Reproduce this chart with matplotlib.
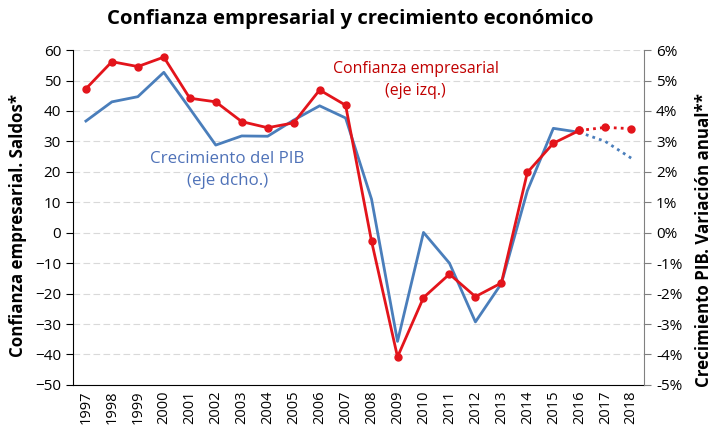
import matplotlib.pyplot as plt
from matplotlib.ticker import FuncFormatter

# Data
years = list(range(1997, 2019))
confianza = [47.3, 56.2, 54.6, 57.7, 44.2, 43.0, 36.5, 34.5, 36.1, 46.9, 41.9,
             -2.8, -40.8, -21.3, -13.6, -21.0, -16.5, 19.8, 29.4, 33.6, 34.6, 34.2]
pib = [3.67, 4.30, 4.47, 5.27, 4.08, 2.88, 3.18, 3.17, 3.70, 4.17, 3.77,
       1.10, -3.57, 0.01, -1.00, -2.93, -1.67, 1.38, 3.43, 3.30, 3.00, 2.45]
n_real = 20  # 1997-2016 observed, 2017-2018 forecast

red = '#E3141B'
blue = '#4A7EBB'

plt.rcParams['font.family'] = ['Open Sans', 'DejaVu Sans']

fig = plt.figure(figsize=(7.15, 4.32), dpi=100)
ax = fig.add_axes([0.102, 0.109, 0.799, 0.775])
ax2 = ax.twinx()

# Left axis: business confidence
ax.set_ylim(-50, 60)
ax.set_yticks(range(-50, 61, 10))
ax.set_xlim(1996.5, 2018.5)
ax.set_xticks(years)
ax.set_xticklabels([str(y) for y in years], rotation=90, fontsize=10.5)
ax.tick_params(axis='y', labelsize=11, length=5, direction='out')
ax.tick_params(axis='x', length=0, pad=4)
ax.grid(axis='y', color='#d9d9d9', linestyle=(0, (6, 3)), linewidth=0.8)
ax.set_axisbelow(True)
for s in ['top', 'right']:
    ax.spines[s].set_visible(False)

# Right axis: GDP growth
ax2.set_ylim(-5, 6)
ax2.set_yticks(range(-5, 7))
ax2.yaxis.set_major_formatter(FuncFormatter(lambda v, p: f"{int(v)}%"))
ax2.tick_params(axis='y', labelsize=11, length=5, direction='out', color='#808080')
for s in ['top', 'left', 'bottom']:
    ax2.spines[s].set_visible(False)
ax2.spines['right'].set_color('#808080')

# Lines
ax2.plot(years[:n_real], pib[:n_real], color=blue, linewidth=2, zorder=2)
ax2.plot(years[n_real - 1:], pib[n_real - 1:], color=blue, linewidth=2,
         linestyle=(0, (1, 1.5)), zorder=2)
ax2.plot(years[:n_real], [v / 10 for v in confianza[:n_real]], color=red,
         linewidth=2, marker='o', markersize=5, zorder=3)
ax2.plot(years[n_real - 1:], [v / 10 for v in confianza[n_real - 1:]], color=red,
         linewidth=2, linestyle=(0, (1, 1.5)), marker='o', markersize=5, zorder=3)

# Labels
fig.text(0.49, 0.955, 'Confianza empresarial y crecimiento económico',
         ha='center', va='center', fontsize=14.7, fontweight='bold')
fig.text(0.025, 0.479, 'Confianza empresarial. Saldos*', rotation=90,
         ha='center', va='center', fontsize=12.2, fontweight='bold')
fig.text(0.985, 0.444, 'Crecimiento PIB. Variación anual**', rotation=90,
         ha='center', va='center', fontsize=12.2, fontweight='bold')

ax.text(2009.7, 56.5, 'Confianza empresarial\n(eje izq.)', color='#C00000',
        ha='center', va='top', fontsize=11.4, linespacing=1.5)
ax.text(2002.45, 27.0, 'Crecimiento del PIB\n(eje dcho.)', color='#4F72B8',
        ha='center', va='top', fontsize=12.2, linespacing=1.5)

fig.savefig('out.png', dpi=100)
